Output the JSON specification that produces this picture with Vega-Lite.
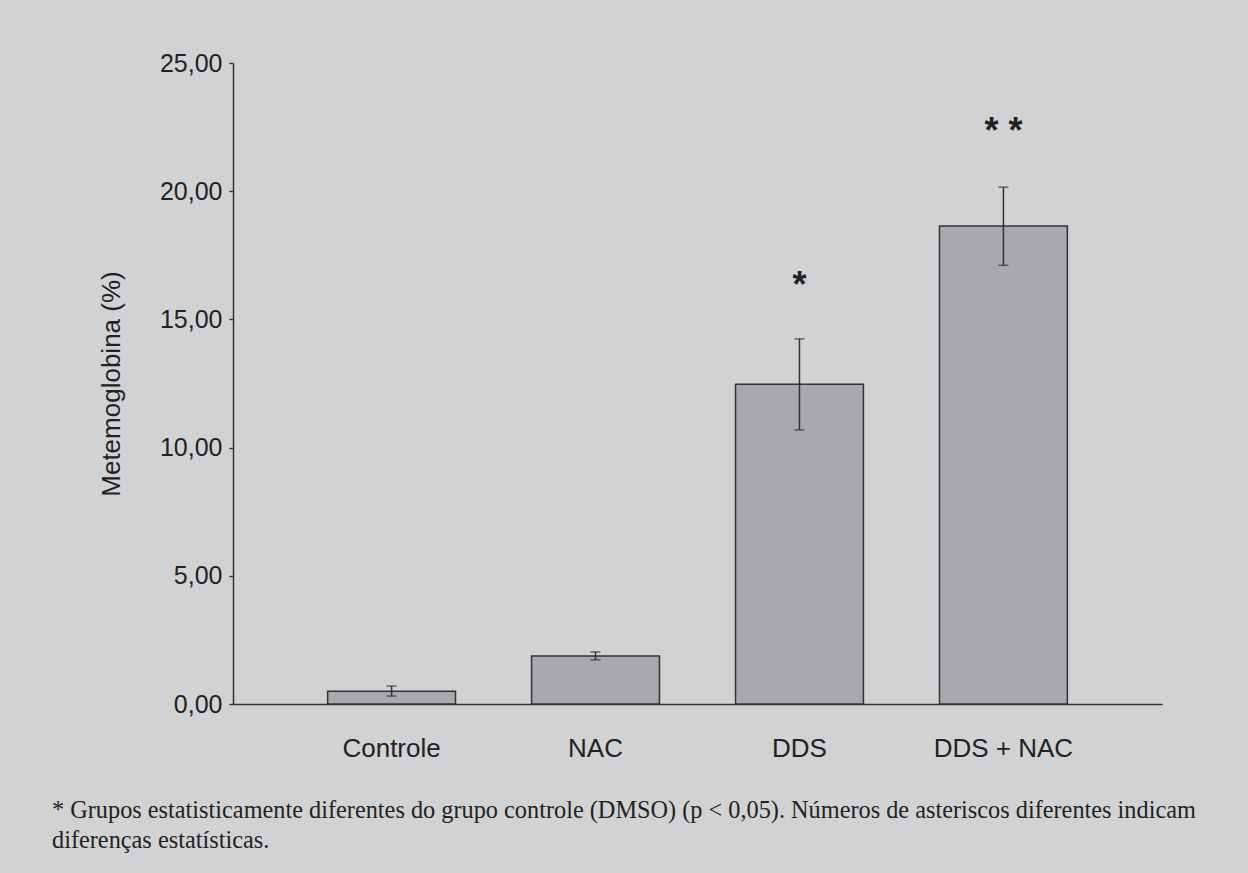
{
  "$schema": "https://vega.github.io/schema/vega-lite/v6.json",
  "autosize": {"type": "none"},
  "width": 929,
  "height": 641,
  "padding": {"left": 233, "top": 63, "right": 86, "bottom": 169},
  "background": "#d1d2d4",
  "config": {
    "view": {"stroke": null},
    "font": "Liberation Sans"
  },
  "title": {
    "text": ["* Grupos estatisticamente diferentes do grupo controle (DMSO) (p < 0,05). Números de asteriscos diferentes indicam", "diferenças estatísticas."],
    "orient": "bottom",
    "anchor": "start",
    "frame": "group",
    "font": "Liberation Serif",
    "fontSize": 24.3,
    "fontWeight": "normal",
    "color": "#222222",
    "lineHeight": 30,
    "offset": 38,
    "dx": -181
  },
  "data": {
    "values": [
      {"grupo": "Controle", "media": 0.5, "baixo": 0.31, "alto": 0.7, "sig": "", "sig_y": null},
      {"grupo": "NAC", "media": 1.87, "baixo": 1.72, "alto": 2.03, "sig": "", "sig_y": null},
      {"grupo": "DDS", "media": 12.47, "baixo": 10.69, "alto": 14.24, "sig": "*", "sig_y": 15.88},
      {"grupo": "DDS + NAC", "media": 18.64, "baixo": 17.11, "alto": 20.16, "sig": "* *", "sig_y": 21.88}
    ]
  },
  "encoding": {
    "x": {
      "field": "grupo",
      "type": "nominal",
      "sort": null,
      "scale": {"paddingInner": 0.373, "paddingOuter": 0.464},
      "axis": {
        "title": null,
        "labelAngle": 0,
        "ticks": false,
        "tickSize": 0,
        "domainColor": "#333333",
        "domainWidth": 1.5,
        "labelFont": "Liberation Sans",
        "labelFontSize": 26,
        "labelColor": "#222222",
        "labelPadding": 31
      }
    }
  },
  "layer": [
    {
      "mark": {"type": "bar", "fill": "#a8a9ad", "stroke": "#333333", "strokeWidth": 1.5},
      "encoding": {
        "y": {
          "field": "media",
          "type": "quantitative",
          "scale": {"domain": [0, 25], "nice": false},
          "axis": {
            "title": "Metemoglobina (%)",
            "values": [0, 5, 10, 15, 20, 25],
            "labelExpr": "replace(format(datum.value, '.2f'), '.', ',')",
            "grid": false,
            "domainColor": "#333333",
            "domainWidth": 1.5,
            "tickColor": "#333333",
            "tickWidth": 1.5,
            "tickSize": 4,
            "labelFont": "Liberation Sans",
            "labelFontSize": 25,
            "labelColor": "#222222",
            "labelPadding": 7,
            "titleFont": "Liberation Sans",
            "titleFontSize": 26,
            "titleFontWeight": "normal",
            "titleColor": "#222222",
            "titlePadding": 35
          }
        }
      }
    },
    {
      "mark": {"type": "rule", "stroke": "#333333", "strokeWidth": 1.5},
      "encoding": {
        "y": {"field": "baixo", "type": "quantitative"},
        "y2": {"field": "alto"}
      }
    },
    {
      "mark": {"type": "tick", "color": "#333333", "size": 10, "thickness": 1.5},
      "encoding": {"y": {"field": "baixo", "type": "quantitative"}}
    },
    {
      "mark": {"type": "tick", "color": "#333333", "size": 10, "thickness": 1.5},
      "encoding": {"y": {"field": "alto", "type": "quantitative"}}
    },
    {
      "mark": {"type": "text", "font": "Liberation Sans", "fontSize": 36, "fontWeight": "bold", "color": "#222222", "baseline": "alphabetic", "align": "center"},
      "encoding": {
        "y": {"field": "sig_y", "type": "quantitative"},
        "text": {"field": "sig"}
      }
    }
  ]
}
